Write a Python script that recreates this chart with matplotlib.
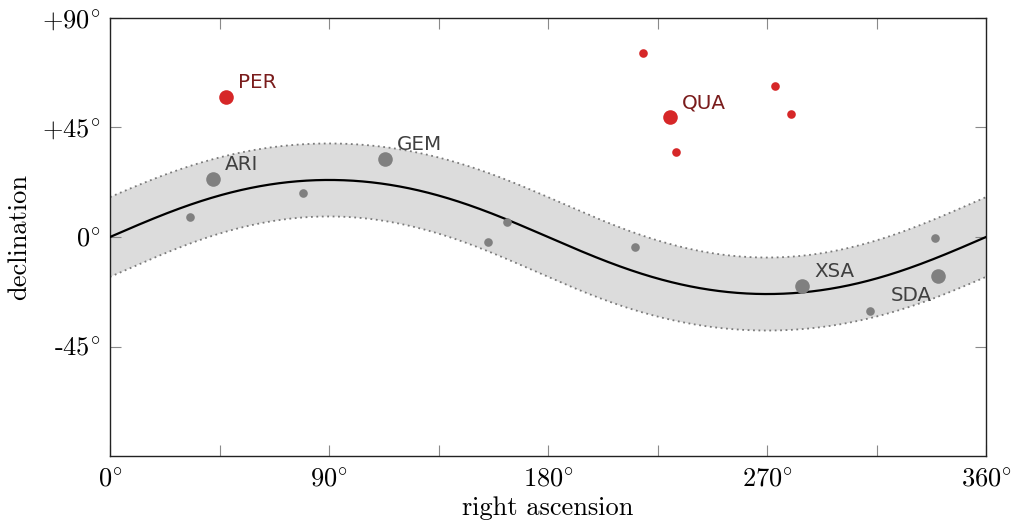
import numpy as np
import matplotlib
matplotlib.use("Agg")
import matplotlib.pyplot as plt

# ---- data ----
shower_names = ["PER", "ARI", "GEM", "QUA", "XSA", "SDA"]
shower_ra = [47.6, 42.3, 112.9, 230.2, 284.4, 340.2]
shower_dec = [57.7, 24.0, 32.2, 49.2, -20.1, -16.0]
shower_group = ["north", "ecl", "ecl", "north", "ecl", "ecl"]

minor_ra = [32.8, 79.3, 155.5, 163.0, 215.9, 219.2, 232.8, 273.2, 279.9, 312.2, 339.2]
minor_dec = [8.1, 18.0, -1.9, 6.3, -4.2, 75.5, 35.1, 61.9, 50.6, -30.3, -0.5]
minor_group = ["ecl", "ecl", "ecl", "ecl", "ecl", "north", "north", "north", "north", "ecl", "ecl"]

x_ticks = [0, 45, 90, 135, 180, 225, 270, 315, 360]
x_labels = ["0$^{\\circ}$", "", "90$^{\\circ}$", "", "180$^{\\circ}$", "", "270$^{\\circ}$", "", "360$^{\\circ}$"]
y_ticks = [-45, 0, 45, 90]
y_labels = ["-45$^{\\circ}$", "0$^{\\circ}$", "+45$^{\\circ}$", "+90$^{\\circ}$"]

obliquity = 23.44     # deg
band_halfwidth = 15.0  # ecliptic latitude, deg

colors = {"north": "#d62728", "ecl": "#808080"}
label_colors = {"north": "#7a1c1c", "ecl": "#404040"}

plt.rcParams["mathtext.fontset"] = "cm"
plt.rcParams["axes.unicode_minus"] = False

fig = plt.figure(figsize=(10.11, 5.28), dpi=100)
ax = fig.add_axes([110/1011, 1-456/528, 876/1011, 438/528])

eps = np.radians(obliquity)


def ecl_to_eq(lam_deg, beta_deg):
    lam = np.radians(lam_deg)
    beta = np.radians(beta_deg)
    dec = np.arcsin(np.sin(beta)*np.cos(eps) + np.cos(beta)*np.sin(eps)*np.sin(lam))
    ra = np.arctan2(np.sin(lam)*np.cos(eps) - np.tan(beta)*np.sin(eps), np.cos(lam))
    ra = np.unwrap(ra)
    return np.degrees(ra), np.degrees(dec)


lam = np.linspace(-40, 400, 2000)
ra_u, dec_u = ecl_to_eq(lam, band_halfwidth)
ra_l, dec_l = ecl_to_eq(lam, -band_halfwidth)
ra_c, dec_c = ecl_to_eq(lam, 0.0)

poly_x = np.concatenate([ra_u, ra_l[::-1]])
poly_y = np.concatenate([dec_u, dec_l[::-1]])
ax.fill(poly_x, poly_y, color="#dcdcdc", lw=0, zorder=1)
ax.plot(ra_u, dec_u, color="#7a7a7a", lw=1.3, ls=(0, (1, 2.0)), zorder=2)
ax.plot(ra_l, dec_l, color="#7a7a7a", lw=1.3, ls=(0, (1, 2.0)), zorder=2)
ax.plot(ra_c, dec_c, color="black", lw=1.6, zorder=3)

# minor showers
for r, d, g in zip(minor_ra, minor_dec, minor_group):
    ax.plot(r, d, "o", ms=6.2, color=colors[g], mec="none", zorder=4)

# major showers
for n, r, d, g in zip(shower_names, shower_ra, shower_dec, shower_group):
    ax.plot(r, d, "o", ms=10.5, color=colors[g], mec="none", zorder=5)
    if n == "SDA":
        ax.annotate(n, (r, d), xytext=(-4.3, -18.0), textcoords="offset points",
                    ha="right", va="baseline", fontsize=14.3, color=label_colors[g],
                    family="DejaVu Sans", zorder=6)
    else:
        ax.annotate(n, (r, d), xytext=(8.6, 6.2), textcoords="offset points",
                    ha="left", va="baseline", fontsize=14.3, color=label_colors[g],
                    family="DejaVu Sans", zorder=6)

ax.set_xlim(0, 360)
ax.set_ylim(-90, 90)
ax.set_xticks(x_ticks)
ax.set_xticklabels(x_labels, fontsize=19, family="cmr10")
ax.set_yticks(y_ticks)
ax.set_yticklabels(y_labels, fontsize=19, family="cmr10")
ax.tick_params(direction="in", length=8, width=0.8, color="#8a8a8a",
               top=True, right=True, pad=7)
ax.tick_params(axis="x", pad=8)
for s in ax.spines.values():
    s.set_color("#222222")
    s.set_linewidth(1.0)

ax.set_xlabel("right ascension", fontsize=19, family="cmr10", labelpad=4)
ax.set_ylabel("declination", fontsize=19, family="cmr10", labelpad=8)

fig.savefig("out.png", dpi=100)
